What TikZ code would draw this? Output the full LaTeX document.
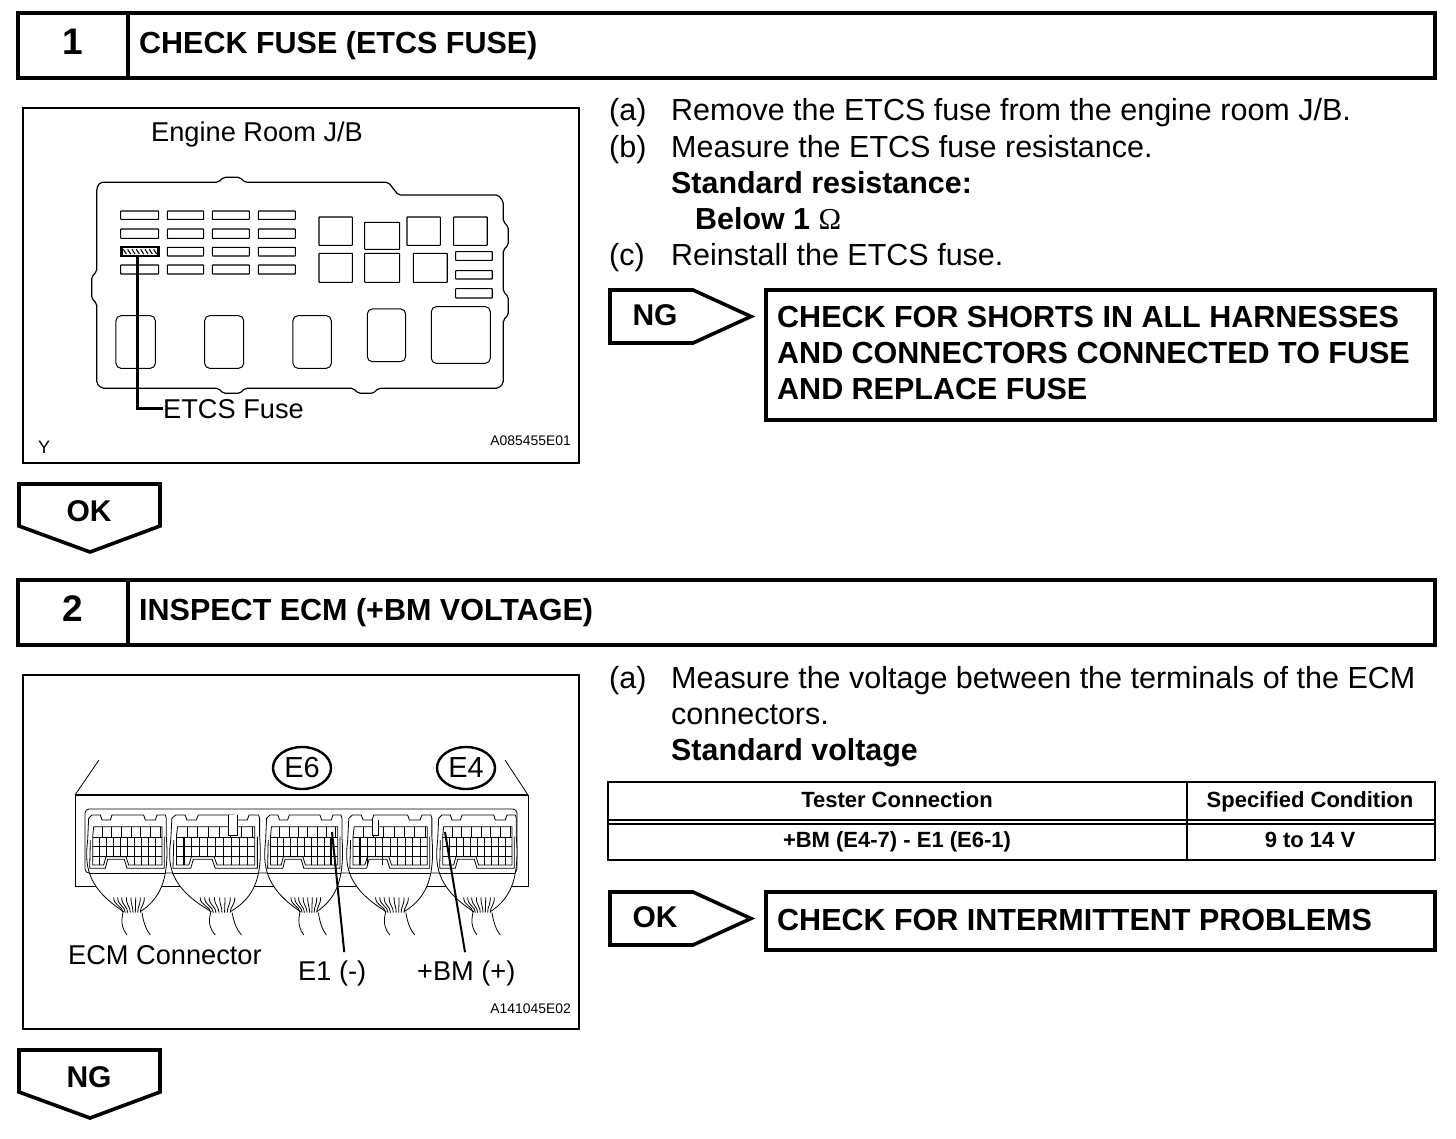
\documentclass[tikz,border=0pt]{standalone}
\usepackage{fontspec}
\setmainfont{Liberation Sans}
\newfontfamily\ohmfont{Liberation Serif}
\usepackage{tikz}
\usetikzlibrary{calc,shapes.geometric}
\tikzset{
  headbox/.style={line width=4pt,fill=white},
  headnum/.style={font=\fontsize{37}{40}\selectfont\bfseries,inner sep=0pt},
  headtitle/.style={font=\fontsize{30.5}{32}\selectfont\bfseries,anchor=base west,inner sep=0pt},
  panelbox/.style={line width=2.6pt},
  flagbox/.style={line width=3.6pt,line join=miter},
  flagtext/.style={font=\fontsize{30}{32}\selectfont\bfseries,inner sep=0pt},
  bodytext/.style={font=\fontsize{30.5}{32}\selectfont,anchor=base west,inner sep=0pt,yshift=-0.8pt},
  boldtext/.style={font=\fontsize{30.4}{32}\selectfont\bfseries,anchor=base west,inner sep=0pt,yshift=-0.8pt},
  fixtext/.style={font=\fontsize{30.5}{36}\selectfont\bfseries,anchor=base west,inner sep=0pt},
  figtext/.style={font=\fontsize{27.2}{28}\selectfont,anchor=base west,inner sep=0pt},
  figcode/.style={font=\fontsize{13.9}{15}\selectfont,anchor=base east,inner sep=0pt},
  tabletext/.style={font=\fontsize{22}{24}\selectfont\bfseries,inner sep=0pt,anchor=base},
  fusepart/.style={line width=1.1pt,fill=white,rounded corners=0.5pt},
  plugline/.style={line width=0.8pt},
  leader/.style={line width=2.6pt},
  pinleader/.style={line width=2pt},
  badge/.style={ellipse,draw,line width=2.4pt,minimum width=58pt,minimum height=42pt,inner sep=0pt,font=\fontsize{29}{30}\selectfont},
}
\newcommand{\stephead}[3]{%
  \draw[headbox] (18,#1) rectangle (1435,#1+65);%
  \draw[headbox] (128,#1) -- (128,#1+65);%
  \node[headnum] (stepnum#2) at (73,#1+29) {#2};%
  \node[headtitle] (steptitle#2) at (139,#1+40) {#3};%
}
\newcommand{\downflag}[3]{%
  \draw[flagbox] (19,#1) -- (160,#1) -- (160,#1+42) -- (90,#1+68) -- (19,#1+42) -- cycle;%
  \node[flagtext] (#2) at (89,#1+27) {#3};%
}
\newcommand{\rightflag}[3]{%
  \draw[flagbox] (610,#1) -- (693,#1) -- (751,#1+26.5) -- (693,#1+53) -- (610,#1+53) -- cycle;%
  \node[flagtext] (#2) at (655,#1+25) {#3};%
}
\newcommand{\ecmplug}[3]{%
  \begin{scope}[shift={(#1,740)},x=#2*0.3333pt,y=-0.3333pt]
    \fill[white] (2,300) .. controls (-6,370) and (-6,440) .. (110,515) -- (160,515) .. controls (230,470) and (246,400) .. (238,290) -- cycle;
    \draw[plugline] (2,300) .. controls (-6,370) and (-6,440) .. (110,515);
    \draw[plugline] (238,290) .. controls (246,400) and (230,470) .. (160,515);
    \draw[plugline] (2,300) -- (5,235) -- (15,225) -- (40,225) -- (45,240) -- (70,240) -- (75,225) -- (170,225) -- (175,240) -- (205,240) -- (210,225) -- (235,225) -- (238,235) -- (238,290);
    \draw[plugline] (5,400) -- (235,400);
    \draw[plugline] (10,300) -- (8,385) -- (55,385) -- (62,358) -- (112,358) -- (120,385) -- (232,385) -- (232,290);
    \draw[plugline] (17,375) -- (50,375) -- (57,350) -- (117,350) -- (125,375) -- (225,375) -- (225,260) -- (20,260) -- (17,290) -- cycle;
    \draw[plugline] (17,292) -- (225,292) (17,320) -- (225,320) (17,350) -- (225,350);
    \foreach \c in {45,74,...,220} \draw[plugline] (\c,260) -- (\c,292);
    \foreach \c in {37,58,...,205} \draw[plugline] (\c,292) -- (\c,350);
    \foreach \c in {37,142,163,184,205} \draw[plugline] (\c,350) -- (\c,375);
    \foreach \c in {#3} \draw[line width=1.6pt] (\c,292) -- (\c,375);
    \foreach \a/\b in {108/80,115/92,122/104,130/118,138/132,145/146,152/160,160/172}
      \draw[plugline] (\a,518) .. controls (\a,498) and (\b,498) .. (\b,472);
    \draw[plugline] (108,518) .. controls (100,550) and (108,570) .. (120,585);
    \draw[plugline] (165,518) .. controls (170,550) and (178,570) .. (190,585);
  \end{scope}%
}

\begin{document}
\begin{tikzpicture}[x=1pt,y=-1pt]
  \useasboundingbox[fill=white] (0,0) rectangle (1456,1138);
  % step 1
  \stephead{13}{1}{CHECK FUSE (ETCS FUSE)}
  \draw[panelbox] (23,108) rectangle (579,463);
  \node[figtext] (roomlabel) at (151,141) {Engine Room J/B};
  \node[figtext,font=\fontsize{18}{20}\selectfont] (viewmark) at (38,453) {Y};
  \node[figcode] (figcodeone) at (571,445) {A085455E01};
  \begin{scope}[shift={(80,170)},x=0.3333pt,y=-0.3333pt]
    \draw[line width=1.2pt,rounded corners=2pt] (60,37) -- (415,37) -- (430,22) -- (480,22) -- (495,37) -- (925,37) -- (955,75) -- (1255,75) -- (1270,95) -- (1270,155) -- (1285,170) -- (1285,225) -- (1270,240) -- (1270,365) -- (1285,380) -- (1285,435) -- (1270,450) -- (1270,640) -- (1255,655) -- (895,655) -- (880,670) -- (835,670) -- (820,655) -- (495,655) -- (480,670) -- (430,670) -- (415,655) -- (65,655) -- (50,640) -- (50,400) -- (35,385) -- (35,320) -- (50,305) -- (50,55) -- cycle;
    \foreach \fa/\fb in {122/236,262/371,397/508,535/646}
      \foreach \ra/\rb in {123/148,177/205,232/258,285/312}
        \draw[fusepart] (\fa,\ra) rectangle (\fb,\rb);
    \foreach \xa/\ya/\xb/\yb in {717/141/817/226,854/157/959/238,981/141/1081/226,1121/141/1222/226,717/250/817/337,854/250/959/337,1000/250/1102/337,1127/245/1237/271,1127/302/1237/327,1127/356/1237/384}
      \draw[fusepart] (\xa,\ya) rectangle (\xb,\yb);
    \foreach \xa/\ya/\xb/\yb in {108/437/226/595,374/437/491/595,639/437/754/595,862/417/977/575,1054/410/1231/580}
      \draw[line width=1pt,rounded corners=5pt] (\xa,\ya) rectangle (\xb,\yb);
    \node[draw,line width=2.2pt,fill=white,minimum width=37pt,minimum height=9pt,inner sep=0pt] (etcsfuse) at (180,245) {};
    \foreach \h in {130,143,...,228}
      \draw[line width=1.1pt] (\h,238) -- (\h+9,252);
    \coordinate (fusetap) at (172,258);
  \end{scope}
  \node[figtext] (fuselabel) at (163,418) {ETCS Fuse};
  \draw[leader] (fusetap) |- (fuselabel.west);
  \node[bodytext] (itemaone) at (609,120) {(a)};
  \node[bodytext] (textaone) at (671,120) {Remove the ETCS fuse from the engine room J/B.};
  \node[bodytext] (itembone) at (609,157) {(b)};
  \node[bodytext] (textbone) at (671,157) {Measure the ETCS fuse resistance.};
  \node[boldtext] (stdres) at (671,193) {Standard resistance:};
  \node[boldtext] (stdresval) at (695,229) {Below 1 {\ohmfont\mdseries Ω}};
  \node[bodytext] (itemcone) at (609,265) {(c)};
  \node[bodytext] (textcone) at (671,265) {Reinstall the ETCS fuse.};
  \rightflag{290}{ngflag}{NG}
  \draw[flagbox] (766,290) rectangle (1435,420);
  \node[fixtext] (fixlineone) at (777,327) {CHECK FOR SHORTS IN ALL HARNESSES};
  \node[fixtext] (fixlinetwo) at (777,363) {AND CONNECTORS CONNECTED TO FUSE};
  \node[fixtext] (fixlinethree) at (777,399) {AND REPLACE FUSE};
  \downflag{484}{okflag}{OK}
  % step 2
  \stephead{580}{2}{INSPECT ECM (+BM VOLTAGE)}
  \draw[panelbox] (23,675) rectangle (579,1029);
  \draw[plugline] (75,795) rectangle (528,886);
  \draw[line width=2pt] (75,795) -- (528,795);
  \draw[plugline] (75,795) -- (99,760);
  \draw[plugline] (528,795) -- (505,760);
  \draw[plugline,rounded corners=4pt] (85,873) -- (85,809) -- (517,809) -- (517,873) -- cycle;
  \ecmplug{87}{1}{37}
  \ecmplug{170}{1.13}{37}
  \ecmplug{265}{0.97}{205}
  \ecmplug{347}{1.07}{37,58,100}
  \ecmplug{437}{1}{}
  \draw[plugline,fill=white] (228,815) -- (228,835) -- (237,835) -- (237,815);
  \draw[plugline,fill=white] (372,820) -- (372,835) -- (378,835) -- (378,820);
  \node[badge] (badgesix) at (302,768) {E6};
  \node[badge] (badgefour) at (466,768) {E4};
  \node[figtext] (ecmlabel) at (68,964) {ECM Connector};
  \node[figtext] (earthlabel) at (298,980) {E1 (-)};
  \node[figtext] (bmlabel) at (417,980) {+BM (+)};
  \coordinate (earthpin) at (332,832);
  \coordinate (bmpin) at (445,832);
  \draw[pinleader,shorten >=8pt] (earthpin) -- (earthlabel.45);
  \draw[pinleader,shorten >=8pt] (bmpin) -- (bmlabel.north);
  \node[figcode] (figcodetwo) at (571,1013) {A141045E02};
  \node[bodytext] (itematwo) at (609,688) {(a)};
  \node[bodytext] (textatwo) at (671,688) {Measure the voltage between the terminals of the ECM};
  \node[bodytext] (textatwob) at (671,724) {connectors.};
  \node[boldtext] (stdvolt) at (671,760) {Standard voltage};
  \draw[line width=2pt] (608,782) rectangle (1435,860);
  \draw[line width=2pt] (1187,782) -- (1187,860);
  \draw[line width=2pt] (608,820) -- (1435,820);
  \draw[line width=2pt] (608,823.5) -- (1435,823.5);
  \node[tabletext] (headtester) at (897,807) {Tester Connection};
  \node[tabletext] (headcond) at (1310,807) {Specified Condition};
  \node[tabletext] (celltester) at (897,847) {+BM (E4-7) - E1 (E6-1)};
  \node[tabletext] (cellcond) at (1310,847) {9 to 14 V};
  \rightflag{892}{okflagtwo}{OK}
  \draw[flagbox] (766,892) rectangle (1435,950);
  \node[fixtext] (fixintermit) at (777,930) {CHECK FOR INTERMITTENT PROBLEMS};
  \downflag{1050}{ngflagtwo}{NG}
\end{tikzpicture}
\end{document}
